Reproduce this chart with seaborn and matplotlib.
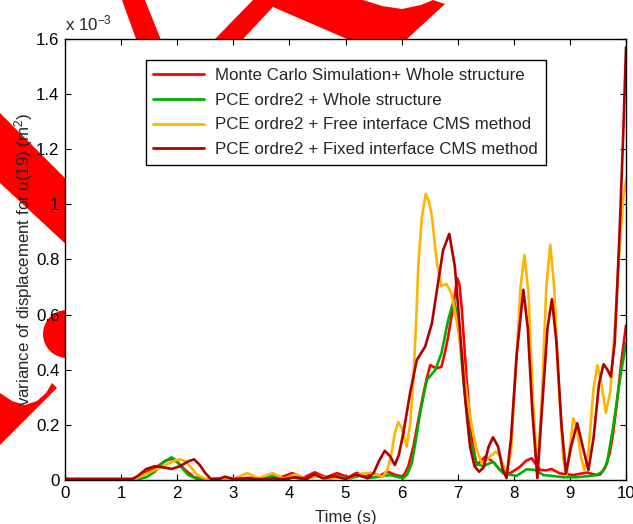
import numpy as np
import pandas as pd
import matplotlib
matplotlib.use("Agg")
import matplotlib.pyplot as plt
import matplotlib.patches as mpatches
from matplotlib.transforms import Affine2D
from matplotlib.ticker import FuncFormatter, MultipleLocator
import seaborn as sns

# values in units of 1e-3 m^2, time in s
mc_t = [0, 1.2, 1.35, 1.5, 1.65, 1.8, 1.9, 2.0, 2.15, 2.3, 2.5, 2.8, 3.0, 3.3, 3.6, 3.85,
        4.05, 4.25, 4.45, 4.65, 4.85, 5.05, 5.2, 5.35, 5.5, 5.6, 5.75, 5.9, 6.03, 6.12,
        6.21, 6.3, 6.39, 6.45, 6.51, 6.57, 6.63, 6.71, 6.77, 6.83, 6.92, 6.99, 7.03, 7.07,
        7.16, 7.25, 7.34, 7.42, 7.49, 7.58, 7.66, 7.75, 7.93, 8.11, 8.22, 8.32, 8.4, 8.47,
        8.58, 8.67, 8.82, 9.06, 9.3, 9.48, 9.54, 9.63, 9.71, 9.77, 9.83, 9.92, 10.0]
mc_v = [0.004, 0.004, 0.015, 0.035, 0.05, 0.07, 0.077, 0.065, 0.035, 0.01, 0.003, 0.005,
        0.003, 0.008, 0.004, 0.01, 0.025, 0.008, 0.028, 0.01, 0.025, 0.01, 0.026, 0.012,
        0.025, 0.015, 0.03, 0.018, 0.012, 0.05, 0.121, 0.22, 0.314, 0.37, 0.417, 0.41,
        0.405, 0.411, 0.46, 0.52, 0.629, 0.732, 0.71, 0.629, 0.363, 0.145, 0.054, 0.07,
        0.085, 0.073, 0.06, 0.036, 0.024, 0.048, 0.07, 0.079, 0.055, 0.036, 0.035, 0.04,
        0.024, 0.018, 0.027, 0.018, 0.02, 0.045, 0.097, 0.17, 0.266, 0.435, 0.56]

pce_t = [0, 1.3, 1.45, 1.6, 1.75, 1.9, 2.0, 2.1, 2.2, 2.35, 2.6, 3.0, 3.4, 3.7, 3.9, 4.05,
         4.25, 4.5, 4.7, 4.85, 5.05, 5.25, 5.45, 5.79, 5.95, 6.03, 6.1, 6.18, 6.25, 6.33,
         6.45, 6.6, 6.71, 6.83, 6.93, 7.01, 7.1, 7.22, 7.34, 7.45, 7.63, 7.81, 8.05, 8.23,
         8.38, 8.53, 8.89, 9.13, 9.37, 9.48, 9.58, 9.66, 9.77, 9.89, 10.0]
pce_v = [0.003, 0.003, 0.01, 0.03, 0.065, 0.082, 0.068, 0.04, 0.018, 0.004, 0.002, 0.003,
         0.004, 0.015, 0.004, 0.01, 0.003, 0.015, 0.004, 0.015, 0.004, 0.015, 0.008, 0.018,
         0.01, 0.007, 0.02, 0.06, 0.14, 0.242, 0.363, 0.399, 0.46, 0.58, 0.653, 0.58, 0.363,
         0.145, 0.06, 0.05, 0.066, 0.024, 0.015, 0.039, 0.036, 0.018, 0.01, 0.01, 0.015,
         0.018, 0.03, 0.06, 0.19, 0.363, 0.496]

free_t = [0, 1.25, 1.4, 1.55, 1.7, 1.85, 1.95, 2.05, 2.15, 2.25, 2.35, 2.5, 2.8, 3.05, 3.25,
          3.45, 3.7, 3.9, 4.1, 4.3, 4.5, 4.7, 4.9, 5.05, 5.2, 5.44, 5.55, 5.67, 5.75, 5.82,
          5.88, 5.94, 6.0, 6.09, 6.15, 6.21, 6.26, 6.3, 6.36, 6.43, 6.49, 6.54, 6.63, 6.71,
          6.8, 6.89, 6.98, 7.07, 7.16, 7.25, 7.34, 7.43, 7.58, 7.68, 7.75, 7.87, 7.95, 8.05,
          8.12, 8.19, 8.26, 8.34, 8.42, 8.5, 8.58, 8.65, 8.72, 8.8, 8.88, 8.94, 9.0, 9.06,
          9.12, 9.2, 9.26, 9.33, 9.42, 9.49, 9.56, 9.64, 9.72, 9.8, 9.88, 9.95, 10.0]
free_v = [0.003, 0.003, 0.018, 0.032, 0.045, 0.06, 0.07, 0.075, 0.068, 0.045, 0.02, 0.004,
          0.003, 0.008, 0.025, 0.006, 0.025, 0.005, 0.02, 0.004, 0.015, 0.004, 0.01, 0.003,
          0.02, 0.027, 0.02, 0.012, 0.04, 0.097, 0.17, 0.21, 0.19, 0.121, 0.2, 0.363, 0.58,
          0.787, 0.95, 1.038, 1.01, 0.955, 0.786, 0.704, 0.711, 0.677, 0.58, 0.46, 0.314,
          0.194, 0.109, 0.06, 0.085, 0.103, 0.09, 0.02, 0.1, 0.45, 0.7, 0.816, 0.68, 0.3,
          0.02, 0.3, 0.7, 0.853, 0.7, 0.35, 0.08, 0.018, 0.12, 0.224, 0.19, 0.08, 0.036,
          0.1, 0.33, 0.417, 0.35, 0.244, 0.32, 0.55, 0.82, 1.02, 1.088]

fixed_t = [0, 1.2, 1.3, 1.45, 1.6, 1.75, 1.9, 2.05, 2.2, 2.3, 2.4, 2.5, 2.6, 2.75, 2.85,
           3.0, 3.2, 3.5, 3.7, 3.9, 4.1, 4.3, 4.45, 4.6, 4.8, 5.0, 5.2, 5.4, 5.5, 5.6, 5.7,
           5.8, 5.88, 5.95, 6.03, 6.15, 6.27, 6.42, 6.54, 6.63, 6.74, 6.85, 6.95, 7.04, 7.13,
           7.22, 7.3, 7.38, 7.46, 7.55, 7.63, 7.72, 7.8, 7.87, 7.95, 8.05, 8.17, 8.25, 8.33,
           8.42, 8.5, 8.6, 8.68, 8.76, 8.85, 8.93, 9.02, 9.13, 9.23, 9.33, 9.42, 9.52, 9.6,
           9.67, 9.73, 9.8, 9.88, 9.95, 10.0]
fixed_v = [0.003, 0.003, 0.015, 0.04, 0.05, 0.046, 0.04, 0.05, 0.068, 0.075, 0.055, 0.025,
           0.004, 0.004, 0.012, 0.004, 0.006, 0.003, 0.006, 0.003, 0.01, 0.004, 0.02, 0.006,
           0.014, 0.004, 0.02, 0.006, 0.025, 0.07, 0.106, 0.085, 0.054, 0.09, 0.169, 0.314,
           0.435, 0.484, 0.568, 0.689, 0.834, 0.893, 0.774, 0.544, 0.302, 0.121, 0.05, 0.03,
           0.045, 0.12, 0.155, 0.121, 0.04, 0.007, 0.15, 0.45, 0.69, 0.55, 0.25, 0.007, 0.25,
           0.55, 0.656, 0.5, 0.2, 0.024, 0.12, 0.206, 0.12, 0.036, 0.15, 0.35, 0.42, 0.4,
           0.375, 0.5, 0.87, 1.25, 1.57]

labels = ["Monte Carlo Simulation+ Whole structure",
          "PCE ordre2 + Whole structure",
          "PCE ordre2 + Free interface CMS method",
          "PCE ordre2 + Fixed interface CMS method"]
colors = ["#ff0000", "#00b000", "#ffb400", "#b00000"]

df = pd.concat([
    pd.DataFrame({"t": mc_t, "v": mc_v, "series": labels[0]}),
    pd.DataFrame({"t": pce_t, "v": pce_v, "series": labels[1]}),
    pd.DataFrame({"t": free_t, "v": free_v, "series": labels[2]}),
    pd.DataFrame({"t": fixed_t, "v": fixed_v, "series": labels[3]}),
])

sns.set_theme(style="ticks", rc={"xtick.direction": "in", "ytick.direction": "in",
                                 "axes.edgecolor": "black", "axes.linewidth": 1.0})
plt.rcParams["font.family"] = ["Liberation Sans", "DejaVu Sans"]
plt.rcParams["mathtext.default"] = "regular"

FS = 12.2
W, H = 633, 524
fig = plt.figure(figsize=(W / 100, H / 100), dpi=100)

# red marker strokes behind the axes (pixel coordinates of the picture)
px = Affine2D().scale(1 / W, -1 / H).translate(0, 1) + fig.transFigure
shapes = [
    [(122, 0), (145, 0), (165, 50), (140, 50)],
    [(215, 39), (253, 0), (363, 0), (382, 6), (402, 9), (421, 5), (433, 0), (445, 4),
     (407, 39), (347, 39), (273, 7), (243, 39)],
    [(0, 113), (70, 183), (70, 248), (0, 183)],
    [(0, 393), (12, 401), (25, 405), (37, 401), (46, 393), (52, 383), (57, 388), (0, 445)],
]
for s in shapes:
    fig.patches.append(mpatches.Polygon(s, closed=True, color="#ff0000", lw=0,
                                        transform=px, zorder=-1))
fig.patches.append(mpatches.Circle((67, 334), 24, color="#ff0000", lw=0,
                                   transform=px, zorder=-1))

ax = fig.add_axes([65 / W, 44 / H, 561 / W, 441 / H])
ax.set_facecolor("white")
sns.lineplot(data=df, x="t", y="v", hue="series", hue_order=labels, palette=colors,
             estimator=None, linewidth=1.9, ax=ax)

ax.set_xlim(0, 10)
ax.set_ylim(0, 1.6)
ax.xaxis.set_major_locator(MultipleLocator(1))
ax.yaxis.set_major_locator(MultipleLocator(0.2))
ax.yaxis.set_major_formatter(FuncFormatter(lambda v, p: "%g" % round(v, 1)))
ax.tick_params(axis="both", which="both", direction="in", length=4, width=0.8,
               top=True, right=True, labelsize=FS, colors="black", pad=4)
for sp in ax.spines.values():
    sp.set_visible(True)
    sp.set_color("black")

ax.set_xlabel("Time (s)", fontsize=FS, labelpad=7)
ax.set_ylabel("variance of displacement for u(19) (m$^2$)", fontsize=FS, labelpad=1)
ax.text(0, 1.012, "x 10$^{-3}$", transform=ax.transAxes, fontsize=FS,
        ha="left", va="bottom")

h, l = ax.get_legend_handles_labels()
leg = ax.legend(h, l, loc="upper left", bbox_to_anchor=(0.144, 0.952), fontsize=FS,
                frameon=True, fancybox=False, edgecolor="black", framealpha=1,
                borderaxespad=0, handlelength=3.0, handletextpad=0.65,
                labelspacing=0.58, borderpad=0.45)
leg.get_frame().set_linewidth(1.0)
for line in leg.get_lines():
    line.set_linewidth(2)

fig.savefig("out.png", dpi=100)
